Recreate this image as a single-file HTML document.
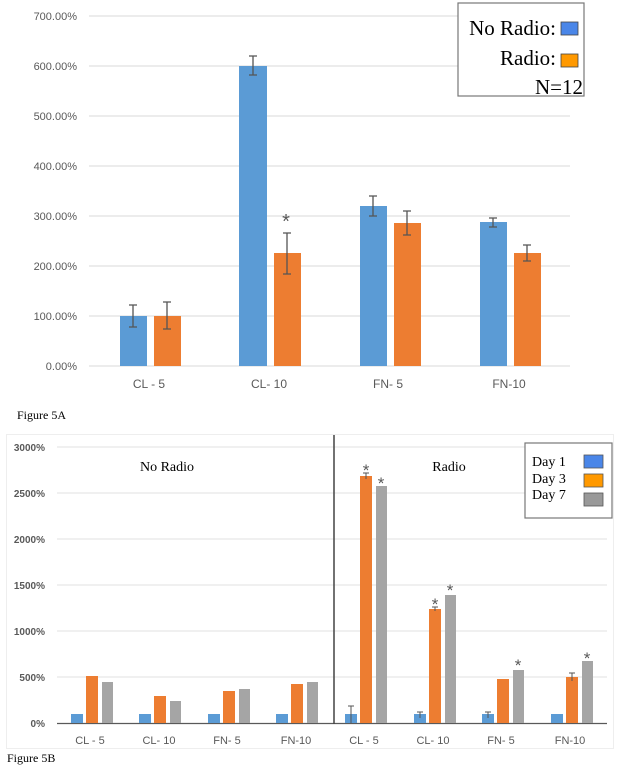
<!DOCTYPE html>
<html><head><meta charset="utf-8"><style>
body{margin:0;background:#fff;}
svg{display:block;}
.ax{font-family:"Liberation Sans",sans-serif;fill:#595959;}
.sr{font-family:"Liberation Serif",serif;fill:#000;}
</style></head><body>
<svg width="622" height="770" viewBox="0 0 622 770" xmlns="http://www.w3.org/2000/svg">
<!-- Figure 5A -->
<g stroke="#d9d9d9" stroke-width="1">
<line x1="89" y1="16" x2="570" y2="16"/><line x1="89" y1="66" x2="570" y2="66"/>
<line x1="89" y1="116" x2="570" y2="116"/><line x1="89" y1="166" x2="570" y2="166"/>
<line x1="89" y1="216" x2="570" y2="216"/><line x1="89" y1="266" x2="570" y2="266"/>
<line x1="89" y1="316" x2="570" y2="316"/><line x1="89" y1="366" x2="570" y2="366"/>
</g>
<g class="ax" font-size="11" text-anchor="end">
<text x="77" y="20">700.00%</text><text x="77" y="70">600.00%</text>
<text x="77" y="120">500.00%</text><text x="77" y="170">400.00%</text>
<text x="77" y="220">300.00%</text><text x="77" y="270">200.00%</text>
<text x="77" y="320">100.00%</text><text x="77" y="370">0.00%</text>
</g>
<g fill="#5b9bd5">
<rect x="120" y="316" width="27" height="50"/><rect x="239" y="66" width="28" height="300"/>
<rect x="360" y="206" width="27" height="160"/><rect x="480" y="222" width="27" height="144"/>
</g>
<g fill="#ed7d31">
<rect x="154" y="316" width="27" height="50"/><rect x="274" y="253" width="27" height="113"/>
<rect x="394" y="223" width="27" height="143"/><rect x="514" y="253" width="27" height="113"/>
</g>
<g stroke="#555" stroke-width="1.3">
<path d="M133 305V327M129 305h8M129 327h8"/><path d="M167 302V329M163 302h8M163 329h8"/>
<path d="M253 56V75M249 56h8M249 75h8"/><path d="M287 233V274M283 233h8M283 274h8"/>
<path d="M373 196V216M369 196h8M369 216h8"/><path d="M407 211V235M403 211h8M403 235h8"/>
<path d="M493 218V227M489 218h8M489 227h8"/><path d="M527 245V261M523 245h8M523 261h8"/>
</g>
<text x="286" y="228" class="ax" font-size="20" text-anchor="middle" fill="#666">*</text>
<g class="ax" font-size="12" text-anchor="middle">
<text x="149" y="388">CL - 5</text><text x="269" y="388">CL- 10</text>
<text x="388" y="388">FN- 5</text><text x="509" y="388">FN-10</text>
</g>
<rect x="458" y="3" width="126" height="93" fill="#fff" stroke="#777" stroke-width="1.2"/>
<g class="sr" font-size="21" text-anchor="end">
<text x="556" y="35">No Radio:</text><text x="556" y="65">Radio:</text><text x="583" y="94">N=12</text>
</g>
<rect x="561" y="22" width="17" height="13" fill="#4a86e8" stroke="#444" stroke-width="0.8"/>
<rect x="561" y="54" width="17" height="13" fill="#ff9900" stroke="#444" stroke-width="0.8"/>
<text x="17" y="419" class="sr" font-size="12">Figure 5A</text>

<!-- Figure 5B -->
<rect x="6.5" y="434.5" width="607" height="314" fill="none" stroke="#eee" stroke-width="1"/>
<g stroke="#e0e0e0" stroke-width="1">
<line x1="57" y1="447" x2="607" y2="447"/><line x1="57" y1="493" x2="607" y2="493"/>
<line x1="57" y1="539" x2="607" y2="539"/><line x1="57" y1="585" x2="607" y2="585"/>
<line x1="57" y1="631" x2="607" y2="631"/><line x1="57" y1="677" x2="607" y2="677"/>
</g>
<line x1="57" y1="723.5" x2="607" y2="723.5" stroke="#595959" stroke-width="1.2"/>
<line x1="334" y1="435" x2="334" y2="724" stroke="#444" stroke-width="1.5"/>
<g class="ax" font-size="10" font-weight="bold" text-anchor="end" fill="#666">
<text x="45" y="451">3000%</text><text x="45" y="497">2500%</text><text x="45" y="543">2000%</text>
<text x="45" y="589">1500%</text><text x="45" y="635">1000%</text><text x="45" y="681">500%</text>
<text x="45" y="727">0%</text>
</g>
<g fill="#5b9bd5">
<rect x="71" y="714" width="12" height="9"/><rect x="139" y="714" width="12" height="9"/>
<rect x="208" y="714" width="12" height="9"/><rect x="276" y="714" width="12" height="9"/>
<rect x="345" y="714" width="12" height="9"/><rect x="414" y="714" width="12" height="9"/>
<rect x="482" y="714" width="12" height="9"/><rect x="551" y="714" width="12" height="9"/>
</g>
<g fill="#ed7d31">
<rect x="86" y="676" width="12" height="47"/><rect x="154" y="696" width="12" height="27"/>
<rect x="223" y="691" width="12" height="32"/><rect x="291" y="684" width="12" height="39"/>
<rect x="360" y="476" width="12" height="247"/><rect x="429" y="609" width="12" height="114"/>
<rect x="497" y="679" width="12" height="44"/><rect x="566" y="677" width="12" height="46"/>
</g>
<g fill="#a5a5a5">
<rect x="102" y="682" width="11" height="41"/><rect x="170" y="701" width="11" height="22"/>
<rect x="239" y="689" width="11" height="34"/><rect x="307" y="682" width="11" height="41"/>
<rect x="376" y="486" width="11" height="237"/><rect x="445" y="595" width="11" height="128"/>
<rect x="513" y="670" width="11" height="53"/><rect x="582" y="661" width="11" height="62"/>
</g>
<g stroke="#555" stroke-width="1">
<path d="M351 706V723M348 706h6"/><path d="M420 712V718M417 712h6"/>
<path d="M488 712V718M485 712h6"/><path d="M366 473V479M363 473h6"/>
<path d="M435 607V611M432 607h6"/><path d="M572 673V681M569 673h6"/>
</g>
<g class="ax" font-size="17" text-anchor="middle" fill="#777">
<text x="366" y="476">*</text><text x="381" y="489">*</text>
<text x="435" y="610">*</text><text x="450" y="596">*</text>
<text x="518" y="671">*</text><text x="587" y="664">*</text>
</g>
<g class="sr" font-size="14" text-anchor="middle">
<text x="167" y="471">No Radio</text><text x="449" y="471">Radio</text>
</g>
<g class="ax" font-size="11" text-anchor="middle" fill="#555">
<text x="90" y="744">CL - 5</text><text x="159" y="744">CL- 10</text>
<text x="227" y="744">FN- 5</text><text x="296" y="744">FN-10</text>
<text x="364" y="744">CL - 5</text><text x="433" y="744">CL- 10</text>
<text x="501" y="744">FN- 5</text><text x="570" y="744">FN-10</text>
</g>
<rect x="525" y="443" width="87" height="75" fill="#fff" stroke="#777" stroke-width="1.2"/>
<g class="sr" font-size="14">
<text x="532" y="466">Day 1</text><text x="532" y="483">Day 3</text><text x="532" y="499">Day 7</text>
</g>
<rect x="584" y="455" width="19" height="13" fill="#4a86e8" stroke="#555" stroke-width="0.8"/>
<rect x="584" y="474" width="19" height="13" fill="#ff9900" stroke="#555" stroke-width="0.8"/>
<rect x="584" y="493" width="19" height="13" fill="#999" stroke="#555" stroke-width="0.8"/>
<text x="7" y="762" class="sr" font-size="12">Figure 5B</text>
</svg>
</body></html>
